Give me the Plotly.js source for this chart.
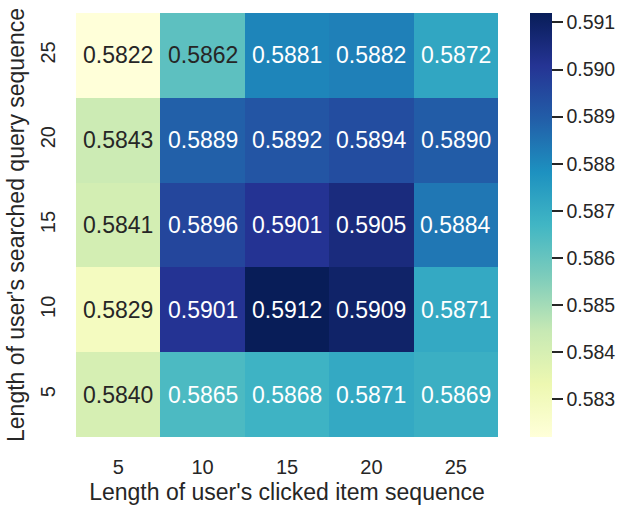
<!DOCTYPE html>
<html>
<head>
<meta charset="utf-8">
<script src="https://cdn.plot.ly/plotly-3.0.1.min.js"></script>
<style>html,body{margin:0;padding:0;background:#fff;}</style>
</head>
<body>
<div id="chart" style="width:628px;height:508px;"></div>
<script>
// Categories
var clickedLen = ['5', '10', '15', '20', '25'];   // x axis
var queryLen = ['5', '10', '15', '20', '25'];     // y axis (bottom to top)

// Values, one row per query length (bottom to top)
var rowQ5  = [0.5840, 0.5865, 0.5868, 0.5871, 0.5869];
var rowQ10 = [0.5829, 0.5901, 0.5912, 0.5909, 0.5871];
var rowQ15 = [0.5841, 0.5896, 0.5901, 0.5905, 0.5884];
var rowQ20 = [0.5843, 0.5889, 0.5892, 0.5894, 0.5890];
var rowQ25 = [0.5822, 0.5862, 0.5881, 0.5882, 0.5872];
var z = [rowQ5, rowQ10, rowQ15, rowQ20, rowQ25];

var cbTicks = [0.583, 0.584, 0.585, 0.586, 0.587, 0.588, 0.589, 0.590, 0.591];

// matplotlib YlGnBu
var ylgnbu = ['#ffffd9','#edf8b1','#c7e9b4','#7fcdbb','#41b6c4','#1d91c0','#225ea8','#253494','#081d58'];
var colorscale = ylgnbu.map(function(c, i){ return [i/(ylgnbu.length-1), c]; });

var zmin = Infinity, zmax = -Infinity;
z.forEach(function(r){ r.forEach(function(v){ zmin = Math.min(zmin, v); zmax = Math.max(zmax, v); }); });

function hex2rgb(h){ return [parseInt(h.substr(1,2),16), parseInt(h.substr(3,2),16), parseInt(h.substr(5,2),16)]; }
function colorAt(v){
  var t = (v - zmin) / (zmax - zmin);
  t = Math.max(0, Math.min(1, t));
  var p = t * (ylgnbu.length - 1);
  var i = Math.min(Math.floor(p), ylgnbu.length - 2);
  var f = p - i;
  var a = hex2rgb(ylgnbu[i]), b = hex2rgb(ylgnbu[i+1]);
  return a.map(function(x, k){ return (x + (b[k]-x)*f) / 255; });
}
function lum(rgb){
  var c = rgb.map(function(x){ return x <= 0.03928 ? x/12.92 : Math.pow((x+0.055)/1.055, 2.4); });
  return 0.2126*c[0] + 0.7152*c[1] + 0.0722*c[2];
}

var xIdx = clickedLen.map(function(_, i){ return i; });
var yIdx = queryLen.map(function(_, i){ return i; });

var font = '"Liberation Sans", Arial, sans-serif';
var annotations = [];
for (var r = 0; r < queryLen.length; r++) {
  for (var c = 0; c < clickedLen.length; c++) {
    var v = z[r][c];
    annotations.push({
      x: xIdx[c], y: yIdx[r], xref: 'x', yref: 'y',
      text: v.toFixed(4), showarrow: false,
      font: {family: font, size: 23, color: lum(colorAt(v)) > 0.408 ? '#262626' : '#ffffff'}
    });
  }
}

var trace = {
  type: 'heatmap',
  x: xIdx, y: yIdx, z: z,
  colorscale: colorscale, zmin: zmin, zmax: zmax,
  xgap: 0, ygap: 0,
  hoverinfo: 'none',
  colorbar: {
    x: 1.0753, xanchor: 'left', xpad: 0,
    y: 0.5, yanchor: 'middle', ypad: 0,
    len: 1, lenmode: 'fraction',
    thickness: 22, thicknessmode: 'pixels',
    outlinewidth: 0,
    tickmode: 'array', tickvals: cbTicks, ticktext: cbTicks.map(function(t){ return t.toFixed(3); }),
    ticks: 'outside', ticklen: 11, tickwidth: 2, tickcolor: '#262626',
    tickfont: {family: font, size: 19.5, color: '#262626'}
  }
};

var layout = {
  width: 628, height: 508,
  margin: {l: 76, r: 127, t: 13, b: 71, pad: 0},
  paper_bgcolor: '#ffffff', plot_bgcolor: '#ffffff',
  font: {family: font, color: '#262626'},
  xaxis: {
    range: [-0.5, clickedLen.length - 0.5], showgrid: false, zeroline: false, showline: false, ticks: '',
    tickmode: 'array', tickvals: xIdx, ticktext: clickedLen,
    ticklabelstandoff: 16,
    tickfont: {family: font, size: 20, color: '#262626'},
    title: {text: "Length of user's clicked item sequence", font: {family: font, size: 23, color: '#262626'}, standoff: 6}
  },
  yaxis: {
    range: [-0.5, queryLen.length - 0.5], showgrid: false, zeroline: false, showline: false, ticks: '',
    tickmode: 'array', tickvals: yIdx, ticktext: queryLen,
    tickangle: -90, ticklabelstandoff: 16,
    tickfont: {family: font, size: 20, color: '#262626'},
    title: {text: "Length of user's searched query sequence", font: {family: font, size: 23, color: '#262626'}, standoff: 5}
  },
  annotations: annotations
};

Plotly.newPlot('chart', [trace], layout, {staticPlot: true, displayModeBar: false});
</script>
</body>
</html>
